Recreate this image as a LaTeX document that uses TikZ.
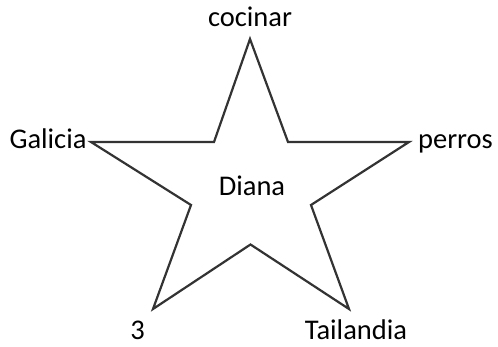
\documentclass[tikz,border=0pt]{standalone}
\usepackage{fontspec}
\setmainfont{Carlito}
\begin{document}
\begin{tikzpicture}[x=1pt,y=-1pt,
  lbl/.style={anchor=base,inner sep=0pt,font=\fontsize{28.5}{32}\selectfont,text=black},
  starline/.style={draw=black!80,line width=2.2pt,line join=miter}]
\useasboundingbox (0,0) rectangle (498,347);
\coordinate (o1) at (250,39);
\coordinate (i1) at (288,142);
\coordinate (o2) at (409,142);
\coordinate (i2) at (311,205);
\coordinate (o3) at (349,309);
\coordinate (i3) at (250.5,244.5);
\coordinate (o4) at (153,309);
\coordinate (i4) at (191,205);
\coordinate (o5) at (91,142);
\coordinate (i5) at (214,142);
\draw[starline] (o1) -- (i1) -- (o2) -- (i2) -- (o3) -- (i3) -- (o4) -- (i4) -- (o5) -- (i5) -- cycle;
\node[lbl] (center) at (252,195.5) {Diana};
\node[lbl] (top) at (250,26.5) {cocinar};
\node[lbl] (left) at (48,148.3) {Galicia};
\node[lbl] (right) at (455.5,148.3) {perros};
\node[lbl] (bl) at (137.7,340) {3};
\node[lbl] (br) at (356,340) {Tailandia};
\end{tikzpicture}
\end{document}
